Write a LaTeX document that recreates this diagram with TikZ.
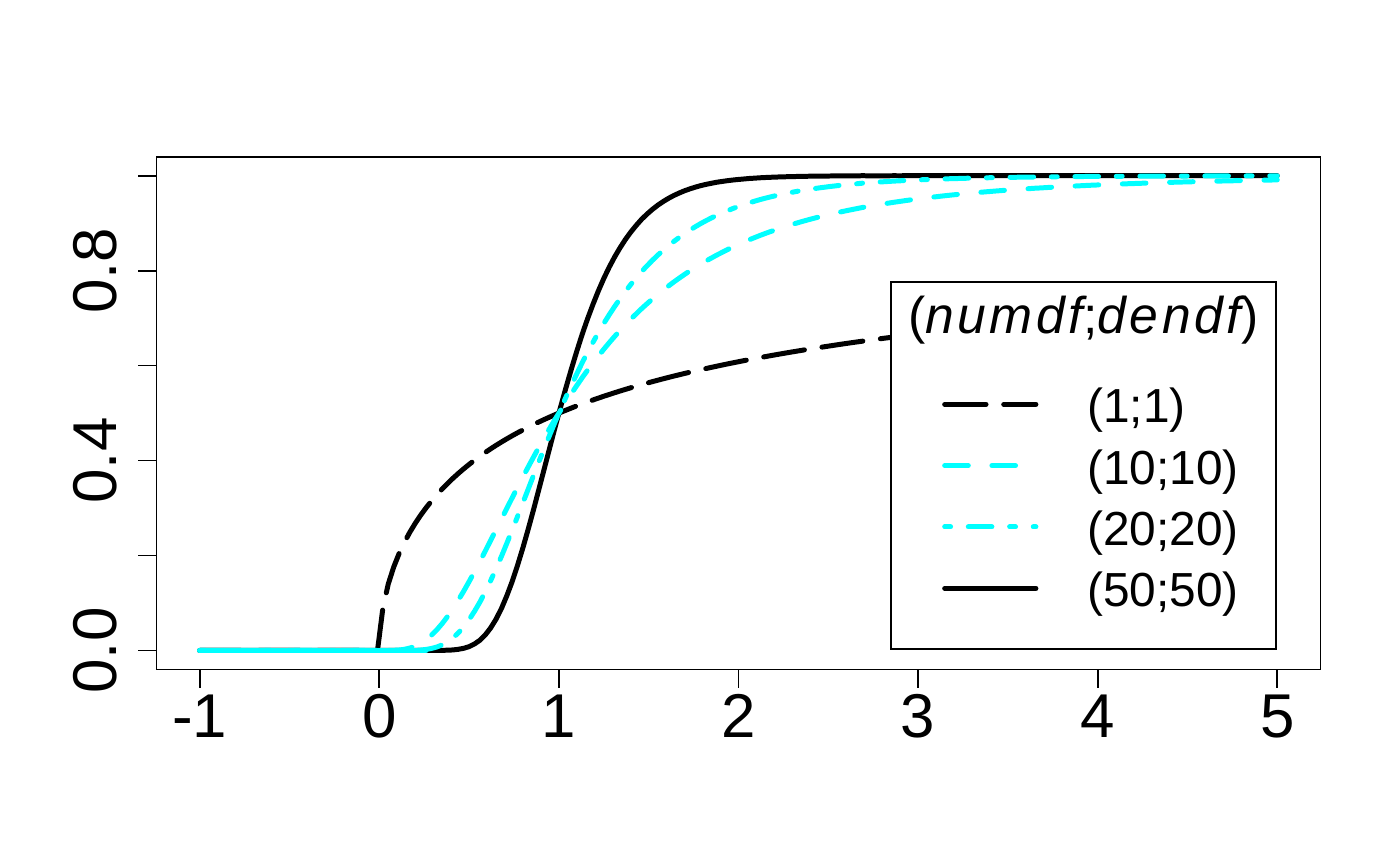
\documentclass[tikz,border=0pt]{standalone}
\usepackage{fontspec}
\setmainfont{Liberation Sans}
\newfontfamily\titlefont[LetterSpace=7]{Liberation Sans}
\usetikzlibrary{positioning}
\definecolor{rcyan}{RGB}{0,255,255}

% cdf of F(d,d) in Horner form, #2 = d/2
\makeatletter
\newcommand\makecdf[2]{%
  \def\mc@e{1}%
  \count@=#2\relax
  \loop
    \advance\count@ by -1\relax
  \ifnum\count@>0
    \edef\mc@e{1+\the\numexpr2*\count@-1\relax/\the\numexpr2*\count@\relax*(4*\noexpand\x/(\noexpand\x+1)^2)*(\unexpanded\expandafter{\mc@e})}%
  \repeat
  \edef#1{0.5+0.5*(\noexpand\x-1)/(\noexpand\x+1)*(\unexpanded\expandafter{\mc@e})}%
}
\makeatother
\makecdf\cdften{5}
\makecdf\cdftwenty{10}
\makecdf\cdffifty{25}

\begin{document}
\begin{tikzpicture}[x=1.796cm,y=4.748cm,
		frame/.style={line width=0.5pt},
		curve/.style={line width=1.42pt, line cap=round, line join=round},
		longdashed/.style={curve, dash pattern=on 11.76pt off 5.04pt},
		cyandashed/.style={curve, rcyan, dash pattern=on 6.72pt off 6.72pt},
		cyandotdash/.style={curve, rcyan, dash pattern=on 1.68pt off 5.04pt on 6.72pt off 5.04pt},
		blacksolid/.style={curve},
		ticklab/.style={inner sep=0pt, anchor=base, font=\fontsize{17.6}{21}\selectfont},
		lgtext/.style={inner sep=0pt, anchor=base west, font=\fontsize{13.6}{16}\selectfont},
		legendbox/.style={draw, fill=white, line width=0.5pt, minimum width=3.853cm, minimum height=3.676cm, inner sep=0pt}
	]
	\useasboundingbox (-2.1119,-0.4518) rectangle (5.6832,1.3700);
	
	% frame and axes
	\draw[frame] (-1.24,-0.04) rectangle (5.24,1.04);
	\foreach \v [count=\i] in {-1,...,5}{
		\coordinate (xt\i) at (\v,-0.04);
		\draw[frame] (xt\i) -- ++(0,-0.19cm);
		\node[ticklab] (xl\i) at (\v,-0.1832) {\v};
	}
	\foreach \i in {0,...,5}{
		\coordinate (yt\i) at (-1.24,\i/5);
		\draw[frame] (yt\i) -- ++(-0.19cm,0);
	}
	\foreach \v [count=\i] in {0.0,0.4,0.8}{
		\node[ticklab, rotate=90] (yl\i) at (-1.4633,\v) {\v};
	}
	
	% curves
	\draw[longdashed] (-1,0) -- (-0.01,0) -- plot[domain=0.02:5,samples=167] (\x,{atan(sqrt(\x))/90});
	\draw[blacksolid] (-1,0) -- (-0.01,0) -- plot[domain=0.02:5,samples=167] (\x,{\cdffifty});
	\draw[cyandashed] (-1,0) -- (-0.01,0) -- plot[domain=0.02:5,samples=167] (\x,{\cdften});
	\draw[cyandotdash] (-1,0) -- (-0.01,0) -- plot[domain=0.02:5,samples=167] (\x,{\cdftwenty});
	\draw[curve, rcyan] (-1,0) -- (0.26,0);
	
	% legend
	\node[legendbox] (lgd) at (3.920,0.3896) {};
	\node[inner sep=0pt, anchor=base, font=\titlefont\fontsize{14.7}{17}\selectfont] (lgt) at (3.920,0.668) {({\itshape numdf};{\itshape dendf})};
	\foreach \st/\lab [count=\i] in {longdashed/{(1;1)}, cyandashed/{(10;10)}, cyandotdash/{(20;20)}, blacksolid/{(50;50)}}{
		\pgfmathsetmacro\ly{0.5185-0.1292*(\i-1)}
		\coordinate (ka\i) at (3.148,\ly);
		\coordinate (kb\i) at (3.656,\ly);
		\draw[\st] (ka\i) -- (kb\i);
		\node[lgtext] (kl\i) at (3.939,{\ly-0.0388}) {\lab};
	}
\end{tikzpicture}
\end{document}
